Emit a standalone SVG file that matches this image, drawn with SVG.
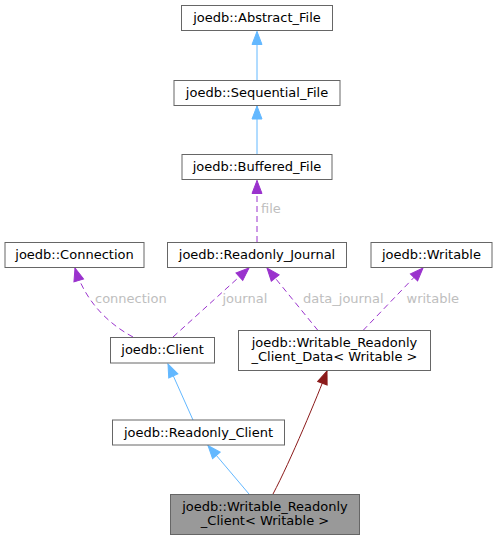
<svg xmlns="http://www.w3.org/2000/svg" width="498" height="540" viewBox="0 0 498 540">
<style>
.box{fill:#ffffff;stroke:#666666;stroke-width:1}
.focus{fill:#999999;stroke:#666666;stroke-width:1}
.t{font-family:"DejaVu Sans",sans-serif;font-size:13px;fill:#000000;text-anchor:middle}
.lbl{font-family:"DejaVu Sans",sans-serif;font-size:13px;fill:#bebebe}
.inh{fill:none;stroke:#63b8ff;stroke-width:1}
.use{fill:none;stroke:#9a32cd;stroke-width:1;stroke-dasharray:6,4}
.tpl{fill:none;stroke:#8b1a1a;stroke-width:1}
</style>
<defs>
<marker id="aBlue" markerUnits="userSpaceOnUse" markerWidth="14" markerHeight="11" refX="13" refY="5" orient="auto" overflow="visible"><path d="M0,0 L13,5 L0,10 z" fill="#63b8ff" stroke="#63b8ff"/></marker>
<marker id="aPurple" markerUnits="userSpaceOnUse" markerWidth="14" markerHeight="11" refX="13" refY="5" orient="auto" overflow="visible"><path d="M0,0 L13,5 L0,10 z" fill="#9a32cd" stroke="#9a32cd"/></marker>
<marker id="aRed" markerUnits="userSpaceOnUse" markerWidth="14" markerHeight="11" refX="13" refY="5" orient="auto" overflow="visible"><path d="M0,0 L13,5 L0,10 z" fill="#8b1a1a" stroke="#8b1a1a"/></marker>
</defs>
<rect width="498" height="540" fill="#ffffff"/>
<g id="connectors">
<path class="inh" d="M257,80 L257,31.5" marker-end="url(#aBlue)"/>
<path class="inh" d="M257,154 L257,106" marker-end="url(#aBlue)"/>
<path class="use" d="M257,242 L257,180.5" marker-end="url(#aPurple)"/>
<path class="use" d="M133,337 C105,322 84,298 75,268" marker-end="url(#aPurple)"/>
<path class="use" d="M173,337 L249,268" marker-end="url(#aPurple)"/>
<path class="use" d="M318,330.5 L267,268" marker-end="url(#aPurple)"/>
<path class="use" d="M363,330.5 L423,268" marker-end="url(#aPurple)"/>
<path class="inh" d="M193,420 L168,364" marker-end="url(#aBlue)"/>
<path class="inh" d="M249,494 L208,445.5" marker-end="url(#aBlue)"/>
<path class="tpl" d="M273,494 C290,462 318,395 327,371" marker-end="url(#aRed)"/>
<text class="lbl" x="261" y="213">file</text>
<text class="lbl" x="95" y="303">connection</text>
<text class="lbl" x="222.5" y="303">journal</text>
<text class="lbl" x="303" y="303">data_journal</text>
<text class="lbl" x="406.5" y="303">writable</text>
</g>
<g id="node_abstract_file"><rect class="box" x="181.5" y="5.5" width="151" height="25"/><text class="t" x="257" y="22">joedb::Abstract_File</text></g>
<g id="node_sequential_file"><rect class="box" x="174" y="80.5" width="166" height="25"/><text class="t" x="257" y="97">joedb::Sequential_File</text></g>
<g id="node_buffered_file"><rect class="box" x="182" y="154.5" width="150" height="25"/><text class="t" x="257" y="171">joedb::Buffered_File</text></g>
<g id="node_connection"><rect class="box" x="5" y="242.5" width="139" height="25"/><text class="t" x="74.5" y="259">joedb::Connection</text></g>
<g id="node_readonly_journal"><rect class="box" x="167.5" y="242.5" width="179" height="25"/><text class="t" x="257" y="259">joedb::Readonly_Journal</text></g>
<g id="node_writable"><rect class="box" x="371" y="242.5" width="121" height="25"/><text class="t" x="431.5" y="259">joedb::Writable</text></g>
<g id="node_client"><rect class="box" x="110.5" y="337.5" width="104" height="25.5"/><text class="t" x="162.5" y="354">joedb::Client</text></g>
<g id="node_client_data"><rect class="box" x="238.5" y="330.5" width="192" height="40"/><text class="t" x="334.5" y="347">joedb::Writable_Readonly</text><text class="t" x="334.5" y="360.5">_Client_Data&lt; Writable &gt;</text></g>
<g id="node_readonly_client"><rect class="box" x="112.5" y="420" width="172" height="25"/><text class="t" x="198.5" y="436.5">joedb::Readonly_Client</text></g>
<g id="node_writable_readonly_client"><rect class="focus" x="170.5" y="494.5" width="189" height="40"/><text class="t" x="265" y="511">joedb::Writable_Readonly</text><text class="t" x="265" y="524.5">_Client&lt; Writable &gt;</text></g>
</svg>
